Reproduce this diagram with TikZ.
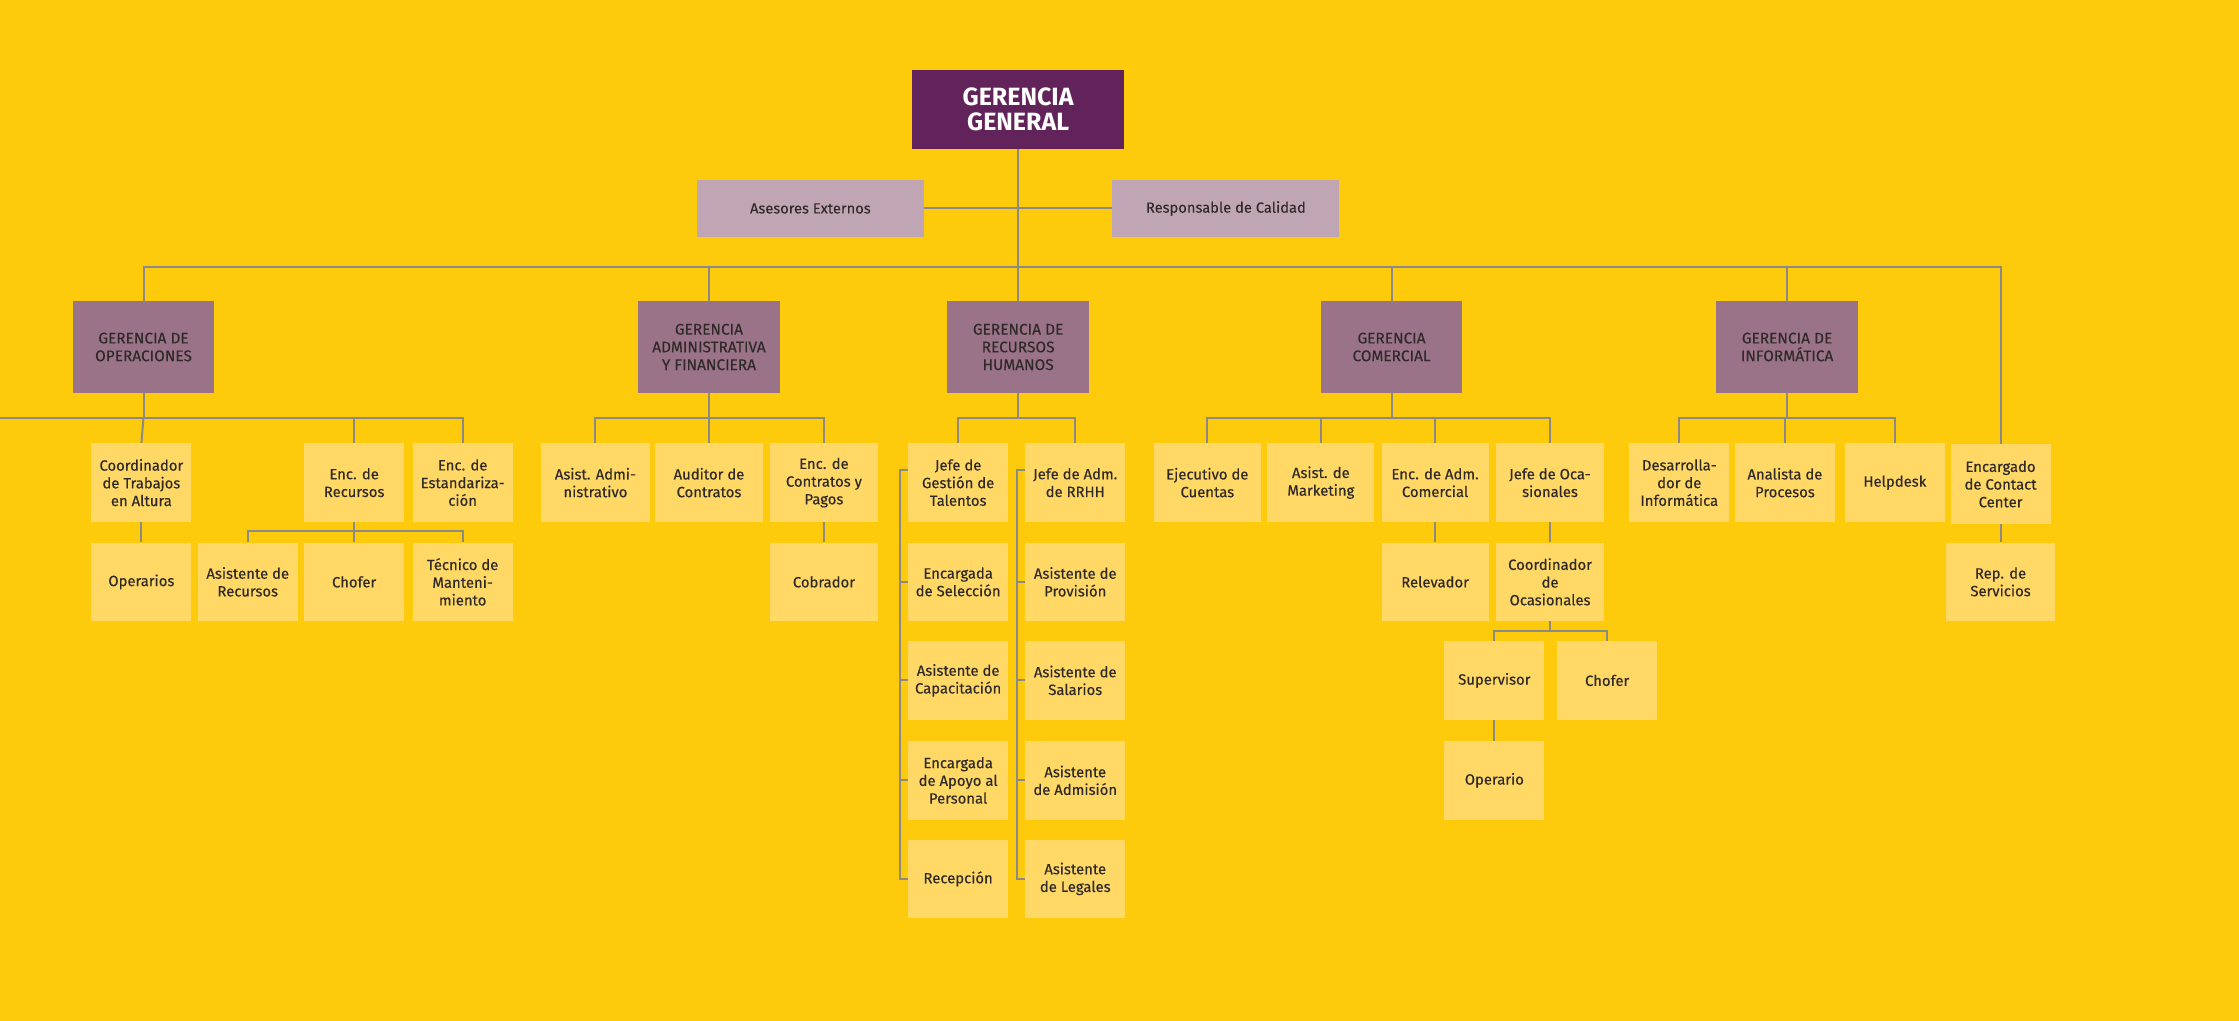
\documentclass[tikz,border=0pt]{standalone}
\usepackage{fontspec}
\setmainfont{Fira Sans}
\newfontfamily\medfont{Fira Sans}[FakeBold=0.35]
\newfontfamily\gerfont{Fira Sans}[FakeBold=0.1]
\definecolor{bgc}{HTML}{FECB0C}
\definecolor{lightbox}{HTML}{FFD866}
\definecolor{mauve}{HTML}{9A7389}
\definecolor{ggc}{HTML}{62225A}
\definecolor{advc}{HTML}{C0A6B4}
\definecolor{linec}{HTML}{8C8A86}
\definecolor{textc}{HTML}{2F2A28}
\begin{document}
\begin{tikzpicture}[x=1pt,y=-1pt,
  line/.style={draw=linec, line width=1.4pt},
  lbox/.style={fill=lightbox, minimum width=70pt, minimum height=55pt, inner sep=1pt, align=center, font=\medfont\fontsize{10.4}{12.4}\selectfont, text=textc},
  gbox/.style={fill=mauve, minimum width=99pt, minimum height=64pt, inner sep=1pt, align=center, font=\gerfont\fontsize{10.8}{12.4}\selectfont, text=textc},
  abox/.style={fill=advc, minimum width=159pt, minimum height=40pt, inner sep=1pt, align=center, font=\gerfont\fontsize{10.3}{12}\selectfont, text=textc},
  topbox/.style={fill=ggc, minimum width=148pt, minimum height=55pt, inner sep=1pt, align=center, font=\bfseries\fontsize{17.5}{17.5}\selectfont, text=white}
]
\fill[bgc] (0,0) rectangle (1568,715);
\useasboundingbox (0,0) rectangle (1568,715);

% top
\node[topbox] (gg) at (713,76.5) {GERENCIA\\GENERAL};
\node[abox] (ase) at (567.5,146) {Asesores Externos};
\node[abox] (rca) at (858.5,146) {Responsable de Calidad};

% gerencias
\node[gbox] (gop) at (100.5,243) {GERENCIA DE\\OPERACIONES};
\node[gbox] (gad) at (496.5,243) {GERENCIA\\ADMINISTRATIVA\\Y FINANCIERA};
\node[gbox] (grh) at (713,243) {GERENCIA DE\\RECURSOS\\HUMANOS};
\node[gbox] (gco) at (974.5,243) {GERENCIA\\COMERCIAL};
\node[gbox] (gin) at (1251.5,243) {GERENCIA DE\\INFORMÁTICA};

% row 1
\node[lbox] (coo) at (99,338) {Coordinador\\de Trabajos\\en Altura};
\node[lbox] (ere) at (248,338) {Enc. de\\Recursos};
\node[lbox] (ees) at (324,338) {Enc. de\\Estandariza-\\ción};
\node[lbox, minimum width=76pt] (aad) at (417,338) {Asist. Admi-\\nistrativo};
\node[lbox, minimum width=75pt] (aud) at (496.5,338) {Auditor de\\Contratos};
\node[lbox, minimum width=76pt] (eco) at (577,338) {Enc. de\\Contratos y\\Pagos};
\node[lbox] (jgt) at (671,338) {Jefe de\\Gestión de\\Talentos};
\node[lbox] (jrh) at (753,338) {Jefe de Adm.\\de RRHH};
\node[lbox, minimum width=75pt] (eje) at (845.5,338) {Ejecutivo de\\Cuentas};
\node[lbox, minimum width=75pt] (mkt) at (925,338) {Asist. de\\Marketing};
\node[lbox, minimum width=75pt] (eac) at (1005,338) {Enc. de Adm.\\Comercial};
\node[lbox, minimum width=75pt] (joc) at (1085.5,338) {Jefe de Oca-\\sionales};
\node[lbox] (des) at (1176,338) {Desarrolla-\\dor de\\Informática};
\node[lbox] (ana) at (1250,338) {Analista de\\Procesos};
\node[lbox] (hel) at (1327,338) {Helpdesk};
\node[lbox, minimum height=56pt] (ecc) at (1401,339) {Encargado\\de Contact\\Center};

% row 2
\node[lbox] (ope) at (99,407.5) {Operarios};
\node[lbox] (are) at (173.5,407.5) {Asistente de\\Recursos};
\node[lbox] (chA) at (248,407.5) {Chofer};
\node[lbox] (tec) at (324,407.5) {Técnico de\\Manteni-\\miento};
\node[lbox, minimum width=76pt] (cob) at (577,407.5) {Cobrador};
\node[lbox] (esel) at (671,407.5) {Encargada\\de Selección};
\node[lbox] (apro) at (753,407.5) {Asistente de\\Provisión};
\node[lbox, minimum width=75pt] (rel) at (1005,407.5) {Relevador};
\node[lbox, minimum width=75pt] (cocc) at (1085.5,407.5) {Coordinador\\de\\Ocasionales};
\node[lbox, minimum width=76pt] (rep) at (1401,407.5) {Rep. de\\Servicios};

% row 3
\node[lbox] (acap) at (671,476.5) {Asistente de\\Capacitación};
\node[lbox] (asal) at (753,476.5) {Asistente de\\Salarios};
\node[lbox] (sup) at (1046.5,476.5) {Supervisor};
\node[lbox] (chB) at (1125.5,476.5) {Chofer};

% row 4
\node[lbox] (eapo) at (671,546.5) {Encargada\\de Apoyo al\\Personal};
\node[lbox] (aadm) at (753,546.5) {Asistente\\de Admisión};
\node[lbox] (opo) at (1046.5,546.5) {Operario};

% row 5
\node[lbox] (rec) at (671,615.5) {Recepción};
\node[lbox] (aleg) at (753,615.5) {Asistente\\de Legales};

% coordinates
\coordinate (bus) at (0,187);
\coordinate (sb) at (0,293);
\coordinate (opl) at (0,293);
\coordinate (bl) at (630,329);
\coordinate (br) at (712,329);

% connectors top
\draw[line] (gg.south) -- (grh.north);
\draw[line] (ase.east) -- (rca.west);
\draw[line] (gop.north) |- (bus -| ecc.north) -- (ecc.north);
\foreach \n in {gad,gco,gin} \draw[line] (\n.north) -- (\n.north |- bus);

% operaciones
\draw[line] (opl) -| (ees.north);
\draw[line] (gop.south) -- (gop.south |- sb);
\draw[line] (ere.north) -- (ere.north |- sb);
\draw[line] (gop.south |- sb) -- (coo.north);
\draw[line] (coo.south) -- (ope.north);
\coordinate (rb) at (0,372);
\draw[line] (ere.south) -- (ere.south |- rb);
\draw[line] (are.north) |- (rb -| tec.north) -- (tec.north);
\draw[line] (ere.south |- rb) -- (chA.north);

% administrativa
\draw[line] (aad.north) |- (sb -| eco.north) -- (eco.north);
\draw[line] (gad.south) -- (aud.north);
\draw[line] (eco.south) -- (cob.north);

% rrhh
\draw[line] (jgt.north) |- (sb -| jrh.north) -- (jrh.north);
\draw[line] (grh.south) -- (grh.south |- sb);
\draw[line] (jgt.west |- bl) -- (bl) |- (rec.west);
\foreach \n in {esel,acap,eapo} \draw[line] (\n.west) -- (bl |- \n.west);
\draw[line] (jrh.west |- br) -- (br) |- (aleg.west);
\foreach \n in {apro,asal,aadm} \draw[line] (\n.west) -- (br |- \n.west);

% comercial
\draw[line] (eje.north) |- (sb -| joc.north) -- (joc.north);
\draw[line] (gco.south) -- (gco.south |- sb);
\foreach \n in {mkt,eac} \draw[line] (\n.north) -- (\n.north |- sb);
\draw[line] (eac.south) -- (rel.north);
\draw[line] (joc.south) -- (cocc.north);
\coordinate (cb) at (0,442);
\draw[line] (cocc.south) -- (cocc.south |- cb);
\draw[line] (sup.north) |- (cb -| chB.north) -- (chB.north);
\draw[line] (sup.south) -- (opo.north);

% informatica
\draw[line] (des.north) |- (sb -| hel.north) -- (hel.north);
\draw[line] (gin.south) -- (gin.south |- sb);
\draw[line] (ana.north) -- (ana.north |- sb);

% contact center
\draw[line] (ecc.south) -- (rep.north);
\end{tikzpicture}
\end{document}
